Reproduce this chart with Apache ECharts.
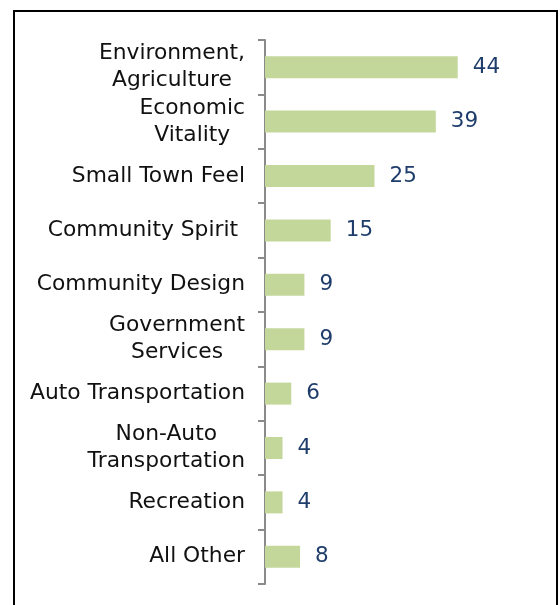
<!DOCTYPE html>
<html>
<head>
<meta charset="utf-8">
<style>
  html, body { margin: 0; padding: 0; background: #fff; }
  #chart { width: 560px; height: 605px; }
</style>
<script src="https://cdn.jsdelivr.net/npm/echarts@6/dist/echarts.min.js"></script>
</head>
<body>
<div id="chart"></div>
<script>
// Responses per topic, listed top to bottom
const categories = [
  'Environment,\nAgriculture',
  'Economic\nVitality',
  'Small Town Feel',
  'Community Spirit ',
  'Community Design',
  'Government\nServices',
  'Auto Transportation',
  'Non-Auto\nTransportation',
  'Recreation',
  'All Other'
];
const counts = [44, 39, 25, 15, 9, 9, 6, 4, 4, 8];

const FONT = '"DejaVu Sans", Verdana, sans-serif';
const X_MAX = 50;
const PX_PER_UNIT = 4.38;

// Multi-line labels: each line centred inside a right-aligned block
function catLabel(v) {
  return v.split('\n').map(l => '{c|' + l + '}').join('\n');
}

const chart = echarts.init(document.getElementById('chart'), null, { renderer: 'canvas' });
chart.setOption({
  animation: false,
  backgroundColor: '#ffffff',
  grid: { left: 265, top: 40, width: X_MAX * PX_PER_UNIT, height: 544, containLabel: false },
  xAxis: {
    type: 'value', min: 0, max: X_MAX,
    show: false
  },
  yAxis: {
    type: 'category',
    inverse: true,
    data: categories,
    axisLine: { show: true, lineStyle: { color: '#8a8a8a', width: 2 } },
    axisTick: { show: true, inside: false, length: 7, lineStyle: { color: '#8a8a8a', width: 2 } },
    axisLabel: {
      margin: 20,
      color: '#111111',
      fontFamily: FONT,
      fontSize: 22,
      lineHeight: 27,
      align: 'right',
      formatter: catLabel,
      rich: {
        c: { align: 'center', color: '#111111', fontFamily: FONT, fontSize: 21.8, lineHeight: 27 }
      }
    },
    splitLine: { show: false }
  },
  series: [{
    type: 'bar',
    data: counts,
    barWidth: 22,
    itemStyle: { color: '#c4d79b' },
    label: {
      show: true,
      position: 'right',
      distance: 15,
      color: '#1f3d6b',
      fontFamily: FONT,
      fontSize: 21.5
    }
  }],
  graphic: [{
    type: 'rect',
    shape: { x: 14, y: 11, width: 543, height: 700 },
    style: { fill: 'none', stroke: '#000000', lineWidth: 2 },
    silent: true
  }]
});
</script>
</body>
</html>
